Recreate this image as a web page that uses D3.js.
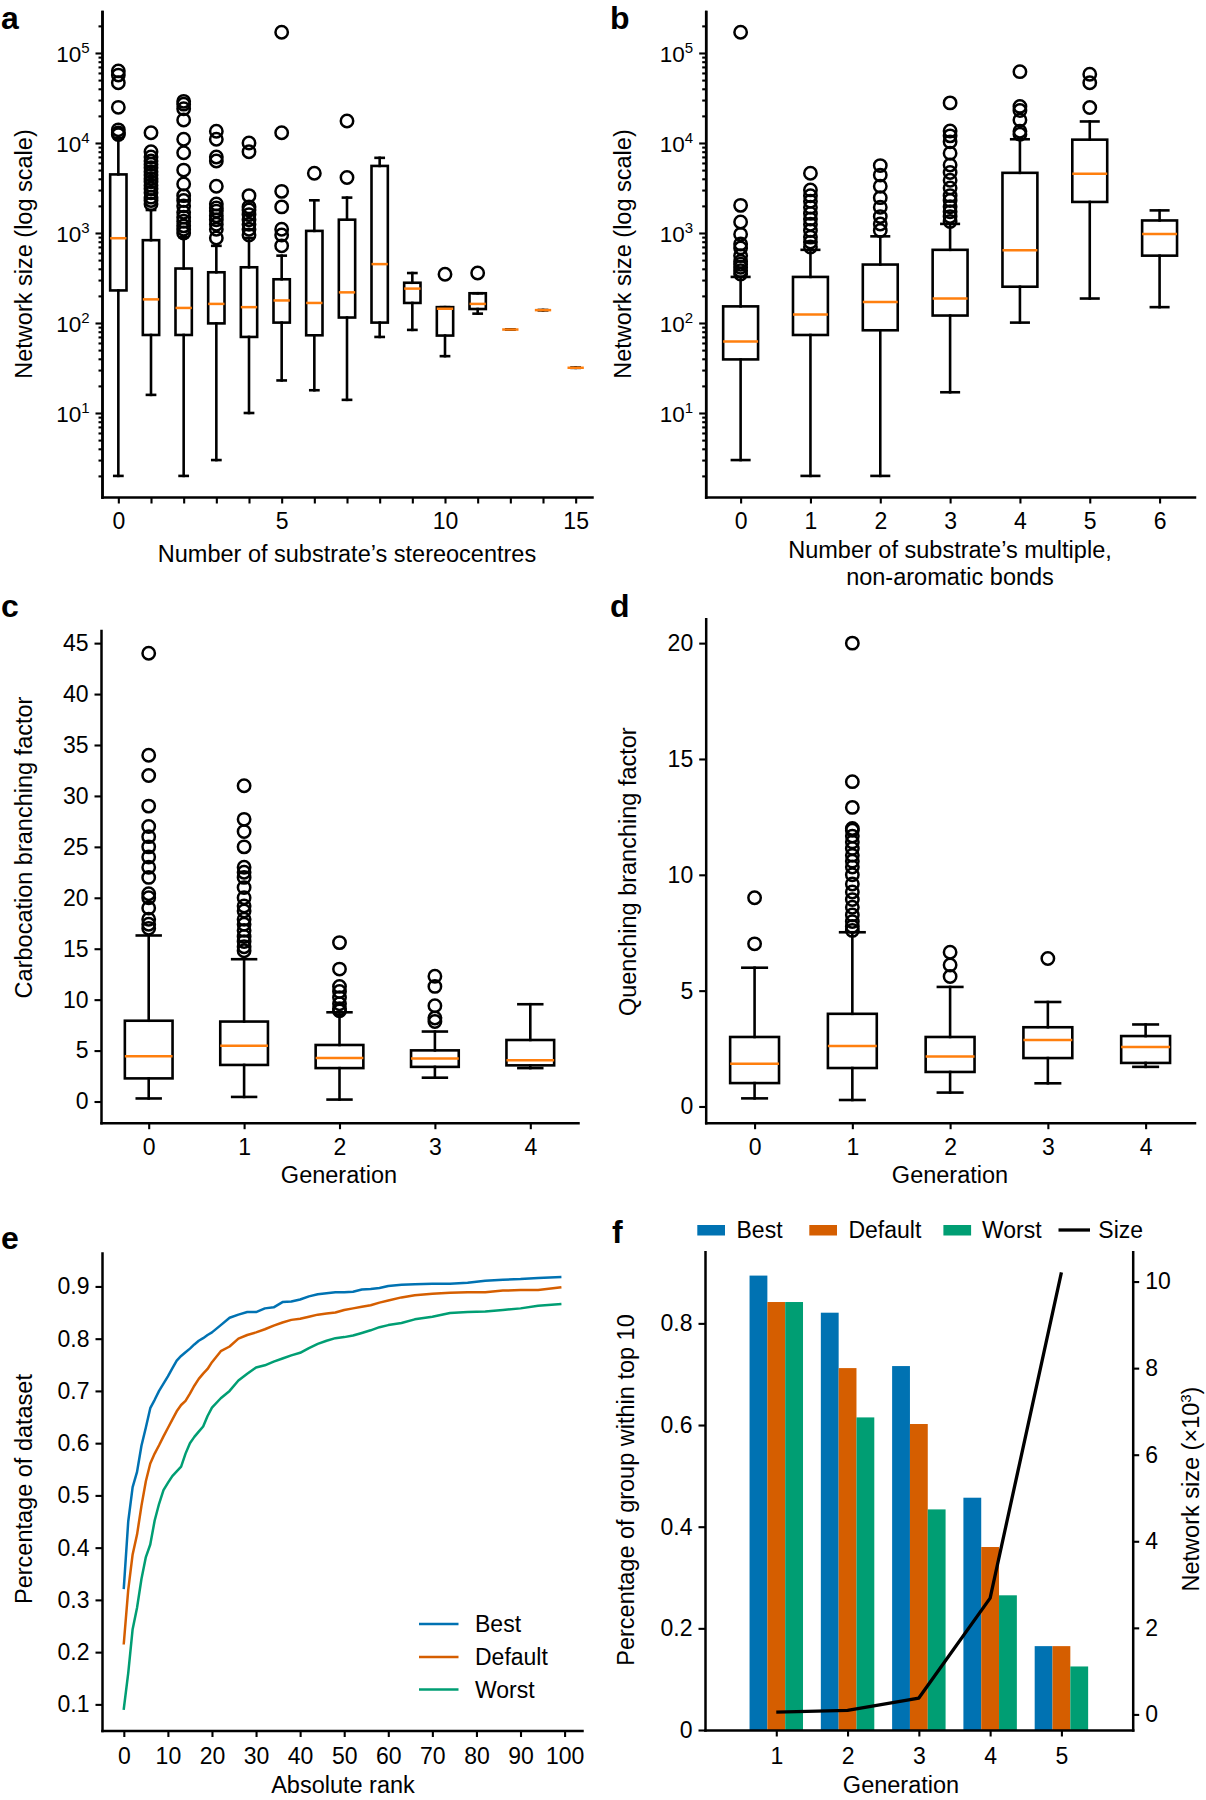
<!DOCTYPE html>
<html>
<head>
<meta charset="utf-8">
<script src="https://cdn.jsdelivr.net/npm/d3@7"></script>
<style>
  body { margin: 0; background: #fff; }
  svg { display: block; }
</style>
</head>
<body>
<script>
// ---------------- DATA ----------------
// Panel a: network size vs number of stereocentres (box stats)
const aCats  = ["0","1","2","3","4","5","6","7","8","9","10","11","12","13","15"];
const aShown = ["0","5","10","15"];
const aLow  = [2, 15.9, 2, 3, 10, 23, 17.9, 14, 70, 83.8, 42.8, 127, 84.6, 139, 31.8];
const aQ1   = [230, 73.6, 73.6, 99, 70, 101, 73, 115, 101, 167, 72.5, 143, 84.6, 139, 31.8];
const aMed  = [875, 183, 147, 163, 150, 178, 167, 219, 451, 241, 144, 163, 84.6, 139, 31.8];
const aQ3   = [4475, 832, 403, 366, 416, 306, 1055, 1406, 5560, 280, 150, 214, 84.6, 139, 31.8];
const aHigh = [11300, 1800, 900, 720, 880, 560, 2307, 2472, 6840, 359, 150, 214, 84.6, 139, 31.8];
const aOut = [
  [12400, 12900, 14000, 24900, 46700, 56800, 63200],
  [2100, 2300, 2500, 2800, 3100, 3400, 3700, 4000, 4400, 4800, 5300, 5800, 6300, 7000, 8000, 13000],
  [1000, 1100, 1200, 1350, 1500, 1700, 2000, 2300, 2600, 3500, 5000, 7800, 11000, 18000, 24000, 27000, 29000],
  [880, 1100, 1250, 1400, 1550, 1750, 1900, 2100, 3300, 6300, 7000, 11000, 13500],
  [950, 1100, 1250, 1400, 1600, 1800, 1950, 2600, 8000, 10000],
  [720, 950, 1100, 1950, 2900, 13000, 170000],
  [4616],
  [4130, 17540],
  [], [], [348], [359], [], [], []
];

// Panel b: network size vs multiple, non-aromatic bonds
const bCats  = ["0","1","2","3","4","5","6"];
const bLow  = [3.0, 2, 2, 17, 101, 187, 150];
const bQ1   = [39.4, 73.6, 83, 121, 253, 2213, 560];
const bMed  = [62.2, 124.5, 171, 187, 643, 4564, 975];
const bQ3   = [153, 325, 446, 650, 4660, 10890, 1378];
const bHigh = [325, 650, 918, 1262, 11000, 17340, 1783];
const bOut = [
  [350, 380, 416, 450, 483, 560, 683, 754, 966, 1325, 2027, 170000],
  [700, 792, 900, 1065, 1250, 1433, 1650, 1929, 2250, 2596, 3011, 4616],
  [1065, 1260, 1520, 1930, 2470, 3300, 4400, 5610],
  [1340, 1520, 1720, 1960, 2300, 2600, 3170, 3860, 4700, 5700, 7700, 10300, 12000, 13600, 27900],
  [12500, 13500, 18000, 23000, 25500, 62000],
  [24800, 46700, 58100],
  []
];

// Panel c: carbocation branching factor per generation
const cCats  = ["0","1","2","3","4"];
const cLow  = [0.3, 0.45, 0.19, 2.34, 3.28];
const cQ1   = [2.27, 3.59, 3.28, 3.40, 3.55];
const cMed  = [4.45, 5.47, 4.27, 4.23, 4.04];
const cQ3   = [7.93, 7.85, 5.55, 5.02, 6.04];
const cHigh = [16.3, 13.97, 8.76, 6.87, 9.55];
const cOut = [
  [17.0, 17.4, 17.9, 19.0, 20.0, 20.4, 22.0, 23.0, 24.0, 25.0, 26.0, 27.0, 29.0, 32.0, 34.0, 44.0],
  [14.8, 15.2, 15.7, 16.2, 16.8, 17.4, 17.9, 18.7, 19.2, 20.0, 21.0, 22.0, 22.5, 23.0, 25.0, 26.5, 27.7, 31.0],
  [8.9, 9.1, 9.6, 10.2, 10.8, 11.3, 13.0, 15.6],
  [7.85, 8.2, 9.4, 11.3, 12.3],
  []
];

// Panel d: quenching branching factor per generation
const dCats  = ["0","1","2","3","4"];
const dLow  = [0.35, 0.28, 0.6, 1.0, 1.71];
const dQ1   = [1.01, 1.66, 1.49, 2.09, 1.88];
const dMed  = [1.84, 2.61, 2.16, 2.87, 2.57];
const dQ3   = [3.00, 4.00, 3.00, 3.42, 3.04];
const dHigh = [5.99, 7.52, 5.16, 4.51, 3.54];
const dOut = [
  [7.02, 9.01],
  [7.6, 7.77, 7.98, 8.27, 8.6, 8.93, 9.26, 9.6, 10.0, 10.34, 10.59, 10.84, 11.14, 11.42, 11.67, 11.92, 12.0, 12.91, 14.02, 20.0],
  [5.61, 6.11, 6.66],
  [6.39],
  []
];

// Panel e: cumulative percentage of dataset vs absolute rank
const eRank = [0,1,2,3,4,5,6,7,8,9,10,11,12,13,14,15,16,17,18,19,20,22,24,26,28,30,32,34,36,38,40,42,44,46,48,50,52,54,56,58,60,63,66,70,74,78,82,86,90,94,99];
const eBest = [0.323,0.450,0.516,0.545,0.595,0.630,0.667,0.683,0.700,0.714,0.728,0.743,0.758,0.767,0.774,0.781,0.789,0.796,0.801,0.807,0.812,0.826,0.840,0.846,0.851,0.851,0.858,0.860,0.870,0.871,0.875,0.881,0.885,0.887,0.889,0.889,0.890,0.894,0.895,0.897,0.901,0.903,0.904,0.905,0.905,0.907,0.911,0.913,0.914,0.916,0.918];
const eDefault = [0.217,0.319,0.387,0.425,0.480,0.527,0.561,0.580,0.596,0.613,0.629,0.645,0.661,0.673,0.681,0.695,0.710,0.723,0.733,0.742,0.755,0.776,0.785,0.800,0.807,0.812,0.818,0.825,0.831,0.836,0.838,0.842,0.846,0.848,0.850,0.855,0.858,0.861,0.864,0.869,0.873,0.879,0.883,0.886,0.888,0.889,0.889,0.892,0.893,0.893,0.898];
const eWorst = [0.092,0.160,0.244,0.285,0.340,0.382,0.406,0.452,0.484,0.510,0.524,0.537,0.546,0.555,0.580,0.600,0.612,0.622,0.632,0.652,0.668,0.686,0.700,0.720,0.733,0.745,0.749,0.756,0.762,0.768,0.773,0.782,0.790,0.796,0.801,0.803,0.806,0.811,0.816,0.822,0.826,0.830,0.837,0.842,0.849,0.851,0.852,0.855,0.858,0.863,0.866];
const eTicksX = [0,10,20,30,40,50,60,70,80,90,100];
const eTicksY = [0.1,0.2,0.3,0.4,0.5,0.6,0.7,0.8,0.9];

// Panel f: percentage of group within top 10 and network size per generation
const fGen     = [1, 2, 3, 4, 5];
const fBest    = [0.894, 0.821, 0.716, 0.457, 0.165];
const fDefault = [0.842, 0.712, 0.602, 0.360, 0.165];
const fWorst   = [0.842, 0.615, 0.434, 0.265, 0.125];
const fSize    = [0.055, 0.092, 0.379, 2.687, 10.21]; // x10^3
const fTicksL  = [0, 0.2, 0.4, 0.6, 0.8];
const fTicksR  = [0, 2, 4, 6, 8, 10];
const fSeries  = ["Best", "Default", "Worst"];

// ---------------- STYLE ----------------
const FONT = '"Liberation Sans", Arial, Helvetica, sans-serif';
const TICK_FS = 23, LABEL_FS = 23.5;
const MEDIAN = "#ff7f0e";
const COLORS = {Best: "#0072b2", Default: "#d55e00", Worst: "#009e73"};
const LW = 2.6;

const svg = d3.select("body").append("svg")
  .attr("width", 1206).attr("height", 1800)
  .attr("font-family", FONT)
  .style("background", "#fff");

function styleAxis(sel) {
  sel.attr("font-family", FONT).attr("font-size", TICK_FS);
  sel.select(".domain").attr("stroke", "#000").attr("stroke-width", 2.5).attr("stroke-linecap", "square");
  sel.selectAll(".tick line").attr("stroke", "#000").attr("stroke-width", 2.1);
  sel.selectAll(".tick text").attr("fill", "#000");
  return sel;
}

function letter(txt, x, y) {
  svg.append("text").attr("x", x).attr("y", y).text(txt)
    .attr("font-size", 32).attr("font-weight", "bold").attr("fill", "#000");
}
function xLabel(lines, x, y0, dy) {
  lines.forEach((t, i) => svg.append("text").attr("x", x).attr("y", y0 + i * (dy || 0))
    .attr("text-anchor", "middle").attr("font-size", LABEL_FS).attr("fill", "#000").text(t));
}
function yLabel(t, x, y) {
  return svg.append("text").attr("transform", `translate(${x},${y}) rotate(-90)`)
    .attr("text-anchor", "middle").attr("font-size", LABEL_FS).attr("fill", "#000").text(t);
}

function drawBoxes(g, x, y, lo, q1, med, q3, hi, out) {
  const idx = d3.range(med.length);
  const hb = x(0.25) - x(0), hc = x(0.125) - x(0);
  const G = g.append("g").attr("stroke", "#000").attr("stroke-width", LW)
    .attr("fill", "none").attr("stroke-linecap", "square");
  G.selectAll(".wl").data(idx).join("line").attr("class", "wl")
    .attr("x1", i => x(i)).attr("x2", i => x(i)).attr("y1", i => y(lo[i])).attr("y2", i => y(q1[i]));
  G.selectAll(".wh").data(idx).join("line").attr("class", "wh")
    .attr("x1", i => x(i)).attr("x2", i => x(i)).attr("y1", i => y(q3[i])).attr("y2", i => y(hi[i]));
  G.selectAll(".cl").data(idx).join("line").attr("class", "cl")
    .attr("x1", i => x(i) - hc).attr("x2", i => x(i) + hc).attr("y1", i => y(lo[i])).attr("y2", i => y(lo[i]));
  G.selectAll(".ch").data(idx).join("line").attr("class", "ch")
    .attr("x1", i => x(i) - hc).attr("x2", i => x(i) + hc).attr("y1", i => y(hi[i])).attr("y2", i => y(hi[i]));
  G.selectAll(".bx").data(idx).join("rect").attr("class", "bx")
    .attr("x", i => x(i) - hb).attr("width", 2 * hb)
    .attr("y", i => y(q3[i])).attr("height", i => Math.max(0, y(q1[i]) - y(q3[i])));
  g.append("g").selectAll("line").data(idx).join("line")
    .attr("x1", i => x(i) - hb).attr("x2", i => x(i) + hb)
    .attr("y1", i => y(med[i])).attr("y2", i => y(med[i]))
    .attr("stroke", MEDIAN).attr("stroke-width", 2.5);
  const fl = [];
  out.forEach((arr, i) => arr.forEach(v => fl.push([i, v])));
  g.append("g").selectAll("circle").data(fl).join("circle")
    .attr("cx", d => x(d[0])).attr("cy", d => y(d[1])).attr("r", 6.2)
    .attr("fill", "none").attr("stroke", "#000").attr("stroke-width", 2.5);
}

function logLeftAxis(g, y, x0) {
  const [d0, d1] = y.domain();
  const majors = [10, 100, 1000, 10000, 100000];
  const minors = [];
  for (let e = 0; e <= 5; e++) for (let m = 2; m <= 9; m++) {
    const v = m * Math.pow(10, e); if (v >= d0 && v <= d1) minors.push(v);
  }
  const gm = g.append("g").attr("transform", `translate(${x0},0)`)
    .call(d3.axisLeft(y).tickValues(minors).tickFormat("").tickSize(3.5).tickSizeOuter(0));
  styleAxis(gm);
  const gM = g.append("g").attr("transform", `translate(${x0},0)`)
    .call(d3.axisLeft(y).tickValues(majors).tickFormat("").tickSize(6.5).tickSizeOuter(0));
  styleAxis(gM);
  gM.selectAll(".tick text").remove();
  gM.selectAll(".tick").append("text")
    .attr("x", -12.5).attr("dy", "0.36em").attr("text-anchor", "end")
    .attr("font-size", 22.5).attr("fill", "#000")
    .each(function (v) {
      const t = d3.select(this);
      t.append("tspan").text("10");
      t.append("tspan").attr("dy", -8.5).attr("font-size", 15).text(Math.round(Math.log10(v)));
    });
}

// ---------------- PANEL a ----------------
{
  const P = {l: 102, r: 592, t: 11.5, b: 497};
  const x = d3.scaleLinear().domain([-0.5, aCats.length - 0.5]).range([P.l, P.r]);
  const y = d3.scaleLog().domain([1.166, 289000]).range([P.b, P.t]);
  const g = svg.append("g");
  drawBoxes(g, x, y, aLow, aQ1, aMed, aQ3, aHigh, aOut);
  logLeftAxis(g, y, P.l);
  styleAxis(g.append("g").attr("transform", `translate(0,${P.b})`)
    .call(d3.axisBottom(x).tickValues(d3.range(aCats.length))
      .tickFormat(i => aShown.includes(aCats[i]) ? aCats[i] : "")
      .tickSize(6.5).tickPadding(9.5).tickSizeOuter(0)));
  letter("a", 1, 29);
  yLabel("Network size (log scale)", 31.5, 254);
  xLabel(["Number of substrate\u2019s stereocentres"], 347, 561.5);
}

// ---------------- PANEL b ----------------
{
  const P = {l: 705.7, r: 1194.5, t: 11.5, b: 497};
  const x = d3.scaleLinear().domain([-0.5, bCats.length - 0.5]).range([P.l, P.r]);
  const y = d3.scaleLog().domain([1.166, 289000]).range([P.b, P.t]);
  const g = svg.append("g");
  drawBoxes(g, x, y, bLow, bQ1, bMed, bQ3, bHigh, bOut);
  logLeftAxis(g, y, P.l);
  styleAxis(g.append("g").attr("transform", `translate(0,${P.b})`)
    .call(d3.axisBottom(x).tickValues(d3.range(bCats.length)).tickFormat(i => bCats[i])
      .tickSize(6.5).tickPadding(9.5).tickSizeOuter(0)));
  letter("b", 610, 29);
  yLabel("Network size (log scale)", 630.7, 254);
  xLabel(["Number of substrate\u2019s multiple,", "non-aromatic bonds"], 950, 557.7, 27.7);
}

// ---------------- PANEL c ----------------
{
  const P = {l: 101, r: 578, t: 630.4, b: 1122.7};
  const x = d3.scaleLinear().domain([-0.5, cCats.length - 0.5]).range([P.l, P.r]);
  const y = d3.scaleLinear().domain([-2.08, 46.25]).range([P.b, P.t]);
  const g = svg.append("g");
  drawBoxes(g, x, y, cLow, cQ1, cMed, cQ3, cHigh, cOut);
  styleAxis(g.append("g").attr("transform", `translate(${P.l},0)`)
    .call(d3.axisLeft(y).tickValues(d3.range(0, 46, 5)).tickSize(6.5).tickPadding(6).tickSizeOuter(0)));
  styleAxis(g.append("g").attr("transform", `translate(0,${P.b})`)
    .call(d3.axisBottom(x).tickValues(d3.range(cCats.length)).tickFormat(i => cCats[i])
      .tickSize(6.5).tickPadding(9.5).tickSizeOuter(0)));
  letter("c", 1, 617);
  yLabel("Carbocation branching factor", 31.5, 847.5);
  xLabel(["Generation"], 339, 1183);
}

// ---------------- PANEL d ----------------
{
  const P = {l: 705.7, r: 1194.5, t: 618.8, b: 1122.7};
  const x = d3.scaleLinear().domain([-0.5, dCats.length - 0.5]).range([P.l, P.r]);
  const y = d3.scaleLinear().domain([-0.70, 21.05]).range([P.b, P.t]);
  const g = svg.append("g");
  drawBoxes(g, x, y, dLow, dQ1, dMed, dQ3, dHigh, dOut);
  styleAxis(g.append("g").attr("transform", `translate(${P.l},0)`)
    .call(d3.axisLeft(y).tickValues([0, 5, 10, 15, 20]).tickSize(6.5).tickPadding(6).tickSizeOuter(0)));
  styleAxis(g.append("g").attr("transform", `translate(0,${P.b})`)
    .call(d3.axisBottom(x).tickValues(d3.range(dCats.length)).tickFormat(i => dCats[i])
      .tickSize(6.5).tickPadding(9.5).tickSizeOuter(0)));
  letter("d", 610, 617);
  yLabel("Quenching branching factor", 636, 871.7);
  xLabel(["Generation"], 950, 1183);
}

// ---------------- PANEL e ----------------
{
  const P = {l: 102, r: 582, t: 1253, b: 1730.5};
  const x = d3.scaleLinear().domain([-4.95, 103.95]).range([P.l, P.r]);
  const y = d3.scaleLinear().domain([0.05, 0.964]).range([P.b, P.t]);
  const g = svg.append("g");
  const series = [["Best", eBest], ["Default", eDefault], ["Worst", eWorst]];
  const line = d3.line().x((d, i) => x(eRank[i])).y(d => y(d));
  g.selectAll(".ln").data(series).join("path").attr("class", "ln")
    .attr("d", d => line(d[1])).attr("fill", "none")
    .attr("stroke", d => COLORS[d[0]]).attr("stroke-width", 2.5)
    .attr("stroke-linejoin", "round").attr("stroke-linecap", "square");
  styleAxis(g.append("g").attr("transform", `translate(${P.l},0)`)
    .call(d3.axisLeft(y).tickValues(eTicksY).tickFormat(d3.format(".1f")).tickSize(6.5).tickPadding(6).tickSizeOuter(0)));
  styleAxis(g.append("g").attr("transform", `translate(0,${P.b})`)
    .call(d3.axisBottom(x).tickValues(eTicksX).tickFormat(d3.format("d")).tickSize(6.5).tickPadding(11).tickSizeOuter(0)));
  // legend
  const lg = g.append("g");
  const ly = [1624, 1657, 1689.5];
  series.forEach((s, i) => {
    lg.append("line").attr("x1", 419).attr("x2", 458.5).attr("y1", ly[i]).attr("y2", ly[i])
      .attr("stroke", COLORS[s[0]]).attr("stroke-width", 2.5);
    lg.append("text").attr("x", 475).attr("y", ly[i] + 8.2).attr("font-size", TICK_FS)
      .attr("fill", "#000").text(s[0]);
  });
  letter("e", 1, 1249);
  yLabel("Percentage of dataset", 31.5, 1489);
  xLabel(["Absolute rank"], 343, 1793);
}

// ---------------- PANEL f ----------------
{
  const P = {l: 705, r: 1132.7, t: 1251.7, b: 1730};
  const x = d3.scaleLinear().domain([0, 6]).range([P.l, P.r]);
  const yL = d3.scaleLinear().domain([0, 0.941]).range([P.b, P.t]);
  const yR = d3.scaleLinear().domain([-0.36, 10.69]).range([P.b, P.t]);
  const g = svg.append("g");
  const vals = {Best: fBest, Default: fDefault, Worst: fWorst};
  const bw = x(0.25) - x(0);
  fSeries.forEach((s, k) => {
    g.append("g").selectAll("rect").data(fGen).join("rect")
      .attr("x", (gn) => x(gn + (k - 1) * 0.25) - bw / 2)
      .attr("width", bw)
      .attr("y", (gn, i) => yL(vals[s][i]))
      .attr("height", (gn, i) => yL(0) - yL(vals[s][i]))
      .attr("fill", COLORS[s]);
  });
  const sl = d3.line().x((d, i) => x(fGen[i])).y(d => yR(d));
  g.append("path").attr("d", sl(fSize)).attr("fill", "none").attr("stroke", "#000")
    .attr("stroke-width", 3.3).attr("stroke-linejoin", "round");
  styleAxis(g.append("g").attr("transform", `translate(${P.l},0)`)
    .call(d3.axisLeft(yL).tickValues(fTicksL).tickFormat(d => d === 0 ? "0" : d3.format(".1f")(d))
      .tickSize(6.5).tickPadding(6).tickSizeOuter(0)));
  styleAxis(g.append("g").attr("transform", `translate(${P.r},0)`)
    .call(d3.axisRight(yR).tickValues(fTicksR).tickFormat(d3.format("d")).tickSize(6.5).tickPadding(6).tickSizeOuter(0)));
  styleAxis(g.append("g").attr("transform", `translate(0,${P.b})`)
    .call(d3.axisBottom(x).tickValues(fGen).tickFormat(d3.format("d")).tickSize(6.5).tickPadding(11).tickSizeOuter(0)));
  // legend
  const lgx = [697.3, 809.3, 943.4];
  const ltx = [736.5, 848.4, 982];
  fSeries.forEach((s, k) => {
    g.append("rect").attr("x", lgx[k]).attr("y", 1225).attr("width", 27.7).attr("height", 10.5)
      .attr("fill", COLORS[s]);
    g.append("text").attr("x", ltx[k]).attr("y", 1238).attr("font-size", TICK_FS).attr("fill", "#000").text(s);
  });
  g.append("line").attr("x1", 1058.5).attr("x2", 1090).attr("y1", 1230).attr("y2", 1230)
    .attr("stroke", "#000").attr("stroke-width", 3.3);
  g.append("text").attr("x", 1098.3).attr("y", 1238).attr("font-size", TICK_FS).attr("fill", "#000").text("Size");
  letter("f", 612, 1243);
  yLabel("Percentage of group within top 10", 634, 1490);
  const rl = svg.append("text").attr("transform", `translate(1199,1489) rotate(-90)`)
    .attr("text-anchor", "middle").attr("font-size", LABEL_FS).attr("fill", "#000");
  rl.append("tspan").text("Network size (\u00d710");
  rl.append("tspan").attr("dy", -8.5).attr("font-size", 15).text("3");
  rl.append("tspan").attr("dy", 8.5).text(")");
  xLabel(["Generation"], 901, 1793);
}
</script>
</body>
</html>
